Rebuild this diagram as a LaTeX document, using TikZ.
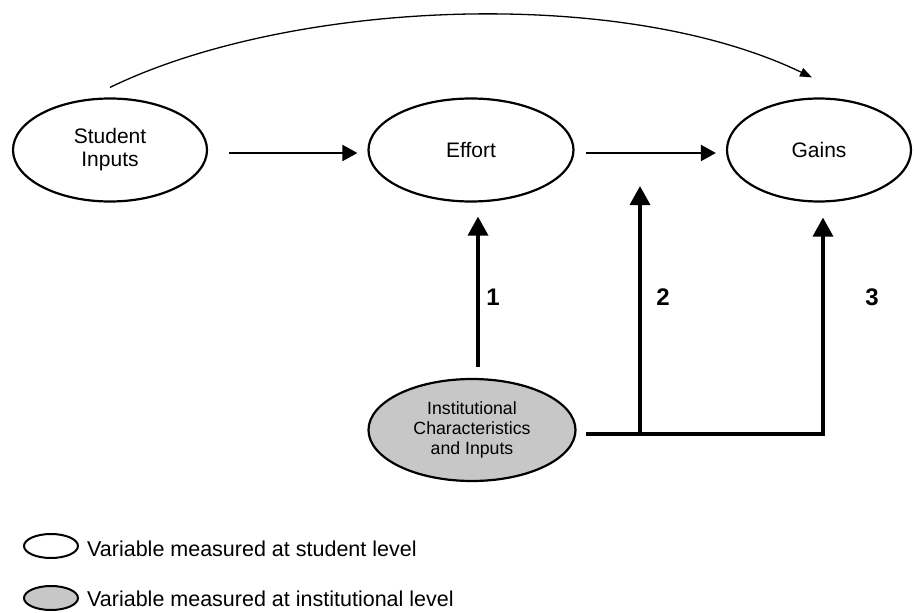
\documentclass[tikz,border=0pt]{standalone}
\usepackage{fontspec}
\setmainfont{Liberation Sans}
\usetikzlibrary{arrows.meta,shapes.geometric}

\begin{document}
\begin{tikzpicture}[x=1pt, y=-1pt,
    var/.style={draw, ellipse, line width=2.2pt, inner sep=0pt, align=center,
        font=\fontsize{21}{23}\selectfont},
    instvar/.style={var, fill=black!22, font=\fontsize{17.7}{20}\selectfont},
    key/.style={draw, ellipse, line width=2pt, minimum width=54pt, minimum height=24pt},
    keytext/.style={anchor=base west, inner sep=0pt, font=\fontsize{21.5}{23}\selectfont},
    flow/.style={line width=2pt, -{Triangle[length=15pt,width=16pt]}},
    effect/.style={line width=3.5pt, -{Triangle[length=19pt,width=20pt]}},
    num/.style={font=\fontsize{24}{24}\selectfont\bfseries}]
                \useasboundingbox (0,0) rectangle (914,613);

                % The variables
                \node[var, minimum width=194pt, minimum height=103pt] (student) at (110,150) {Student\\Inputs};
                \node[var, minimum width=205pt, minimum height=103pt] (effort) at (471,150) {Effort};
                \node[var, minimum width=184pt, minimum height=103pt] (gains) at (819,150) {Gains};
                \node[instvar, minimum width=207pt, minimum height=102pt] (inst) at (472,430) {Institutional\\Characteristics\\and Inputs};

                % direct paths
                \draw[flow] ([xshift=21pt,yshift=-3pt]student.east) -- ([xshift=-10pt,yshift=-3pt]effort.west);
                \draw[flow] ([xshift=11pt,yshift=-3pt]effort.east) -- ([xshift=-10pt,yshift=-3pt]gains.west);
                \draw[line width=1.3pt, -{Triangle[length=12pt,width=9pt]}] ([yshift=10pt]student.north)
                    .. controls (290,0) and (620,-15) .. ([xshift=-7pt,yshift=20pt]gains.north);

                % institutional effects
                \coordinate (j2) at (640,434);
                \coordinate (j3) at (823,434);
                \coordinate (t2) at (640,186);
                \draw[effect] ([xshift=6pt,yshift=11pt]inst.north) -- ([xshift=7pt,yshift=-14pt]effort.south);
                \draw[effect] ([xshift=9pt,yshift=-4pt]inst.east) -- (j3) -- ([xshift=4pt,yshift=-15pt]gains.south);
                \draw[effect] (j2) -- (t2);
                \node[num] (n1) at (493,297) {1};
                \node[num] (n2) at (663,297) {2};
                \node[num] (n3) at (872,297) {3};

                % legend
                \node[key] (k1) at (51,546) {};
                \node[key, fill=black!22] (k2) at (51,598) {};
                \node[keytext] (t1) at (87,556) {Variable measured at student level};
                \node[keytext] (t2) at (87,606) {Variable measured at institutional level};
            \end{tikzpicture}
\end{document}
